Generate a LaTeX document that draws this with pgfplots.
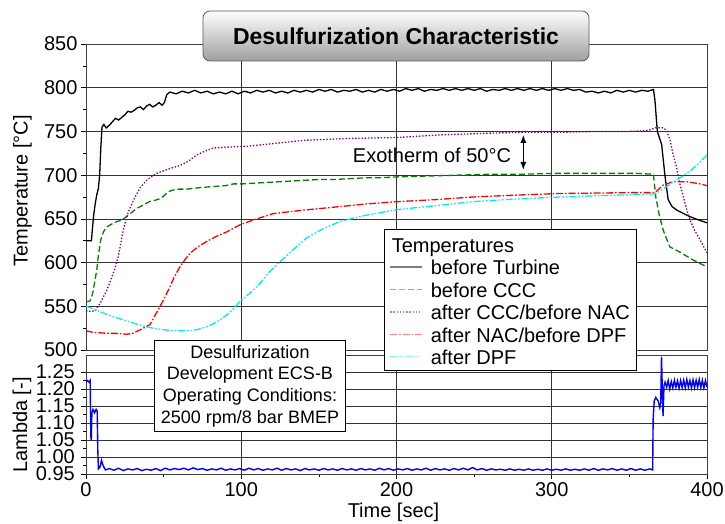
\documentclass[border=0pt]{standalone}
\usepackage{fontspec}
\setmainfont{Liberation Sans}
\usepackage{pgfplots}
\pgfplotsset{compat=1.18}
\usetikzlibrary{arrows.meta}

\definecolor{cgreen}{RGB}{0,128,0}
\definecolor{cpurple}{RGB}{128,0,128}
\definecolor{cred}{RGB}{255,0,0}
\definecolor{ccyan}{RGB}{0,235,235}
\definecolor{cblue}{RGB}{0,0,255}

% fixed row height for the legend lines
\newcommand{\lstrut}{\rule[-6.5pt]{0pt}{23.4pt}}

\pgfplotsset{
  common/.style={
    scale only axis, width=621pt,
    xmin=0, xmax=400,
    xtick={0,100,200,300,400},
    grid=major,
    major grid style={black!80, line width=0.6pt},
    axis line style={black!75, line width=0.8pt},
    tick align=outside, ytick pos=left, xtick pos=lower,
    major tick length=5pt, minor tick length=3pt,
    tick style={black, line width=0.6pt},
    ticklabel style={font=\fontsize{20}{24}\selectfont},
    /pgf/number format/assume math mode=true,
  },
}

\begin{document}
\begin{tikzpicture}[font=\fontsize{20}{24}\selectfont]
\useasboundingbox (0pt,0pt) rectangle (725pt,524pt);

% lambda panel (drawn first so the legend lies on top)
\begin{axis}[common,
  at={(86pt,50pt)}, anchor=south west, height=119pt,
  ymin=0.95, ymax=1.30,
  ytick={0.95,1,1.05,1.1,1.15,1.2,1.25},
  minor y tick num=1, minor x tick num=1,
  yticklabel style={inner sep=1pt, xshift=-5pt,
    /pgf/number format/.cd, fixed, fixed zerofill, precision=2},
]
\addplot[cblue, line width=1.4pt] coordinates {
(0,1.22)(1,1.225)(2,1.22)(2.7,1.225)(3.1,1.06)(3.4,1.05)(3.8,1.13)(4.5,1.14)(5.5,1.13)(6.5,1.14)(7.2,1.135)(7.6,1.02)(8,0.965)(9,0.97)(10,0.99)(11,0.975)(12.5,0.962)
(15,0.966)(18,0.961)(21,0.967)(24,0.960)(27,0.965)(30,0.962)(33,0.966)(36,0.960)(39,0.964)(42,0.961)(45,0.966)(48,0.960)(51,0.967)(54,0.962)(57,0.966)(60,0.963)(63,0.967)(66,0.962)(69,0.968)(72,0.963)(75,0.966)(78,0.961)(81,0.965)(84,0.962)(87,0.967)(90,0.961)(93,0.965)(96,0.962)(99,0.966)(102,0.961)(105,0.967)(108,0.962)(111,0.966)(114,0.961)(117,0.965)(120,0.962)(123,0.967)(126,0.961)(129,0.966)(132,0.962)(135,0.965)(138,0.960)(141,0.966)(144,0.962)(147,0.965)(150,0.961)(153,0.966)(156,0.962)(159,0.965)(162,0.961)(165,0.966)(168,0.962)(171,0.965)(174,0.961)(177,0.966)(180,0.962)(183,0.965)(186,0.961)(189,0.967)(192,0.962)(195,0.966)(198,0.961)(201,0.965)(204,0.962)(207,0.966)(210,0.961)(213,0.965)(216,0.962)(219,0.967)(222,0.961)(225,0.966)(228,0.962)(231,0.965)(234,0.961)(237,0.966)(240,0.962)(243,0.967)(246,0.962)(249,0.969)(252,0.962)(255,0.966)(258,0.961)(261,0.965)(264,0.962)(267,0.964)(270,0.961)(273,0.965)(276,0.961)(279,0.964)(282,0.961)(285,0.965)(288,0.961)(291,0.964)(294,0.961)(297,0.965)(300,0.961)(303,0.964)(306,0.961)(309,0.965)(312,0.961)(315,0.964)(318,0.961)(321,0.965)(324,0.961)(327,0.966)(330,0.961)(333,0.965)(336,0.962)(339,0.966)(342,0.961)(345,0.965)(348,0.961)(351,0.966)(354,0.961)(357,0.965)(360,0.961)(363,0.965)(365,0.962)
(365.3,1.11)(366,1.165)(367,1.175)(368.5,1.165)(369.6,1.145)(370.2,1.16)(370.7,1.295)(371.2,1.20)(371.7,1.12)(372.3,1.21)(373,1.22)
(374,1.205)(375,1.225)(376,1.20)(377,1.222)(378,1.203)(379,1.226)(380,1.205)(381,1.224)(382,1.202)(383,1.225)(384,1.204)(385,1.226)(386,1.203)(387,1.228)(388,1.205)(389,1.225)(390,1.203)(391,1.227)(392,1.204)(393,1.226)(394,1.205)(395,1.228)(396,1.204)(397,1.226)(398,1.203)(399,1.225)(400,1.205)
};
\end{axis}

% temperature panel
\begin{axis}[common,
  at={(86pt,174pt)}, anchor=south west, height=306pt,
  ymin=500, ymax=850,
  ytick={500,550,600,650,700,750,800,850},
  xticklabels={}, xtick style={draw=none},
  minor y tick num=1,
  legend style={at={(0.48,0.3954)}, anchor=north west, draw=black, fill=white,
    line width=0.8pt, font=\fontsize{20}{24}\selectfont,
    inner xsep=5pt, inner ysep=2pt, row sep=0pt,
    /tikz/every odd column/.append style={column sep=6pt}},
  legend cell align=left,
  legend image code/.code={\draw[#1, opacity=0.5] (0pt,0pt) -- (32pt,0pt);},
]
\addlegendimage{empty legend}
\addlegendentry{\hspace{-39pt}\rule[-7pt]{0pt}{26pt}Temperatures}

\addplot[black, line width=1.3pt] coordinates {
(0,625)(3.5,625)(4.2,640)(5,655)(6,668)(7,678)(8,685)(8.8,700)(9.5,730)(10.3,755)(11.5,758)(13,754)(15,757)(17,761)(19,765)(21,763)(23,766)(25,769)(27,773)(29,772)(31,774)(33,777)(35,778)(37,775)(39,779)(41,781)(43,778)(45,780)(47,783)(49,780)(50.5,783)(52,792)(54,795)
(58,793)(62,796)(66,794)(70,797)(74,794)(78,796)(82,793)(86,795)(90,793)(94,796)(98,793)(102,796)(106,794)(110,797)(114,795)(118,797)(122,794)(126,796)(130,794)(134,797)(138,795)(142,797)(146,795)(150,798)(154,796)(158,798)(162,795)(166,797)(170,796)(174,798)(178,795)(182,797)(186,795)(190,798)(194,796)(198,798)(202,796)(206,799)(210,797)(214,799)(218,796)(222,798)(226,797)(230,799)(234,797)(238,799)(242,797)(246,799)(250,797)(254,799)(258,796)(262,798)(266,797)(270,799)(274,797)(278,799)(282,797)(286,799)(290,797)(294,799)(298,797)(302,799)(306,797)(310,799)(314,797)(318,798)(322,795)(326,796)(330,794)(334,796)(338,794)(342,797)(346,795)(350,797)(354,795)(358,797)(362,796)(365.5,798)
(366.5,785)(368,750)(370.8,735)(373,698)(375,672)(377.5,664)(380.5,660)(385,656)(389,652.5)(395,648.5)(400,645.5)
};
\addlegendentry{\lstrut before Turbine}

\addplot[cgreen, line width=1.3pt, dash pattern=on 6pt off 3pt] coordinates {
(0,555)(2.5,556)(3.5,560)(4.7,568)(6,582)(6.9,591)(7.9,607)(9.5,626)(11.2,635)(13,640)(15.5,643)(17.6,645)(20,647)(22,648)(25,651)(27,654)(30,658)(32.6,662)(35,664)(38,667)(41.2,670)(44,671)(47.6,673)(50,676)(53,681)(56,683)(60,684)(65,684)(70,685)(75,686)(82,687)(90,688)(95,690)(101,690)(110,691)(120,692)(130,693)(140,694)(150,695)(160,695)(170,696)(180,697)(190,697)(200,698)(220,699)(240,700)(260,701)(280,701)(300,702)(320,702)(340,702)(355,702)(365.5,701)
(367,675)(369.3,654)(371.8,637)(376,618)(382.5,612)(391,603)(400,595)
};
\addlegendentry{\lstrut before CCC}

\addplot[cpurple, line width=1.3pt, dash pattern=on 1.4pt off 1.8pt] coordinates {
(0,545)(3,544)(6,545)(7,548)(9,553)(11,560)(13.3,568)(15.5,578)(17.6,588)(19.2,597)(20.8,607)(22.4,622)(24,637)(25.6,648)(27.3,658)(29.5,667)(31.6,675)(35,686)(39,694)(42,698)(45.5,702)(50,705)(55,708)(60.5,711)(66,716)(71.3,723)(76,727)(82,731)(90,732)(103.5,733)(120,736)(142,740)(170,742)(200,743)(228,746)(260,748)(280,749)(305,749)(330,750)(350,750)(362,751)
(367.5,754.5)(372,754)(374,751)(376.2,740)(378,725)(380.5,708)(382.5,690)(384.7,676)(387,660)(389,649)(392,637)(395.5,626)(400,611)
};
\addlegendentry{\lstrut after CCC/before NAC}

\addplot[cred, line width=1.3pt, dash pattern=on 7pt off 2pt on 1.5pt off 2pt] coordinates {
(0,522)(5,520)(10,519.5)(15,519)(20,519)(26,518)(30,519)(34.8,523)(38,526)(41.2,529)(44,538)(47.6,549.5)(51,561)(54,572)(57,584)(60.5,595)(64,604)(67,610.5)(72,618)(77.7,624)(84,630)(90.6,635)(99,643)(103.5,646)(110,650)(120.6,656)(140,660)(163.5,664)(180,667)(200,669.6)(225,672)(249,675)(275,677)(305,679)(330,679.5)(350,680)(366.5,680)
(371.9,688.7)(378.3,692.5)(387,692.5)(395.5,690)(400,688)
};
\addlegendentry{\lstrut after NAC/before DPF}

\addplot[ccyan, line width=1.3pt, dash pattern=on 7pt off 2pt on 1.5pt off 2pt on 1.5pt off 2pt] coordinates {
(0,550)(5,547)(10,543)(17.6,538)(25,534)(32,530)(39,526.5)(46,524)(54,522.5)(60,522)(67,522)(72,523.5)(77.7,526.5)(82,530)(86,534)(90.6,540)(95,547)(99,555)(105.6,565)(112,576)(118,589)(125,601)(133,614)(142,628)(152,638)(163.5,647)(180,654)(200,660.5)(225,665)(249,669.6)(275,672.5)(305,675)(330,676.5)(350,677.5)(366.4,678.5)
(370,682)(374,687)(379,693)(384.6,699)(390,706)(395,714)(400,723)
};
\addlegendentry{\lstrut after DPF}

\node[anchor=west, inner sep=0pt] at (axis cs:171.8,723) {Exotherm of 50°C};
\draw[<->, >={Latex[length=8pt,width=6pt]}, line width=1pt] (axis cs:281.7,746) -- (axis cs:281.7,706);
\end{axis}

\node[draw=black, fill=white, line width=0.8pt, align=center,
  font=\fontsize{18}{21.7}\selectfont, minimum width=191pt, minimum height=91pt,
  inner sep=2pt] at (250pt,138pt)
  {Desulfurization\\Development ECS-B\\Operating Conditions:\\2500 rpm/8 bar BMEP};

\node[draw=black!65, line width=0.8pt, rounded corners=7pt, top color=white,
  bottom color=black!38, minimum width=386pt, minimum height=50pt,
  font=\bfseries\fontsize{23}{27}\selectfont] at (396pt,488pt)
  {Desulfurization Characteristic};

\node[rotate=90] at (22.5pt,333pt) {Temperature [°C]};
\node[rotate=90] at (22pt,99pt) {Lambda [-]};
\node at (393.5pt,12pt) {Time [sec]};
\end{tikzpicture}
\end{document}
